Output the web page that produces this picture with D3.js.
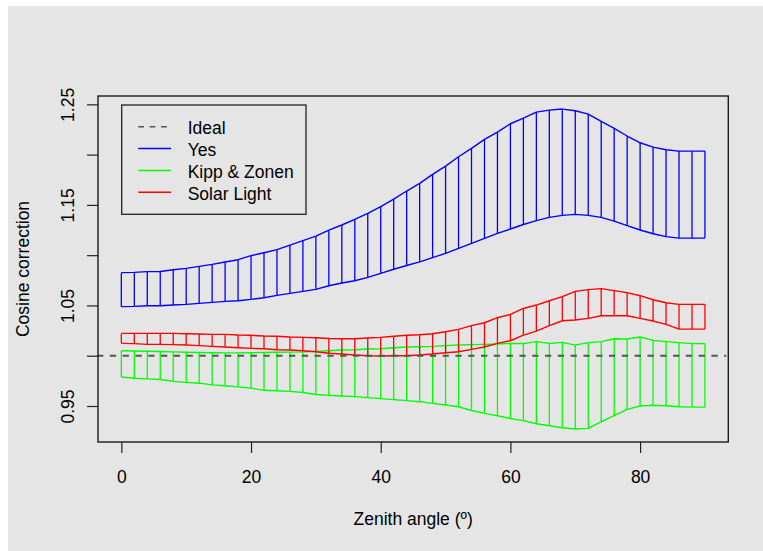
<!DOCTYPE html>
<html>
<head>
<meta charset="utf-8">
<script src="https://cdn.jsdelivr.net/npm/d3@7"></script>
<style>
  html, body { margin: 0; padding: 0; background: #ffffff; }
  svg { display: block; }
  text { font-family: "Liberation Sans", Arial, Helvetica, sans-serif; fill: #000; }
</style>
</head>
<body>
<svg id="chart" width="763" height="551"></svg>
<script>
// Zenith angles (degrees) at which each radiometer was measured
const angles = [0, 2, 4, 6, 8, 10, 12, 14, 16, 18, 20, 22, 24, 26, 28, 30,
  32, 34, 36, 38, 40, 42, 44, 46, 48, 50, 52, 54, 56, 58, 60,
  62, 64, 66, 68, 70, 72, 74, 76, 78, 80, 82, 84, 86, 88, 90];

// Cosine correction envelopes (upper and lower bound) per instrument
const yesUpper = [1.0826, 1.0829, 1.0836, 1.0838, 1.0855, 1.0869, 1.0889, 1.0909, 1.0932, 1.0955,
  1.0995, 1.1024, 1.1055, 1.1100, 1.1144, 1.1190, 1.1250, 1.1300, 1.1356, 1.1416,
  1.1482, 1.1558, 1.1638, 1.1714, 1.1803, 1.1886, 1.1979, 1.2062, 1.2151, 1.2224,
  1.2307, 1.2362, 1.2423, 1.2443, 1.2453, 1.2436, 1.2403, 1.2330, 1.2261, 1.2185,
  1.2118, 1.2075, 1.2049, 1.2035, 1.2035, 1.2035];
const yesLower = [1.0488, 1.0491, 1.0497, 1.0497, 1.0504, 1.0511, 1.0521, 1.0531, 1.0541, 1.0547,
  1.0560, 1.0577, 1.0600, 1.0620, 1.0640, 1.0660, 1.0696, 1.0723, 1.0746, 1.0779,
  1.0819, 1.0860, 1.0897, 1.0933, 1.0976, 1.1018, 1.1068, 1.1117, 1.1167, 1.1217,
  1.1260, 1.1305, 1.1344, 1.1376, 1.1396, 1.1406, 1.1396, 1.1376, 1.1339, 1.1293,
  1.1250, 1.1213, 1.1184, 1.1170, 1.1170, 1.1170];

const kippUpper = [1.0050, 1.0047, 1.0045, 1.0042, 1.0038, 1.0035, 1.0032, 1.0030, 1.0028, 1.0028,
  1.0030, 1.0032, 1.0034, 1.0036, 1.0038, 1.0043, 1.0050, 1.0057, 1.0060, 1.0067,
  1.0070, 1.0080, 1.0087, 1.0090, 1.0093, 1.0100, 1.0106, 1.0110, 1.0113, 1.0116,
  1.0123, 1.0120, 1.0140, 1.0123, 1.0133, 1.0106, 1.0130, 1.0140, 1.0169, 1.0166,
  1.0186, 1.0153, 1.0140, 1.0130, 1.0120, 1.0120];
const kippLower = [0.9788, 0.9776, 0.9770, 0.9763, 0.9745, 0.9735, 0.9727, 0.9710, 0.9702, 0.9690,
  0.9678, 0.9656, 0.9652, 0.9645, 0.9634, 0.9614, 0.9606, 0.9600, 0.9593, 0.9583,
  0.9573, 0.9563, 0.9553, 0.9543, 0.9526, 0.9510, 0.9493, 0.9455, 0.9427, 0.9403,
  0.9374, 0.9354, 0.9324, 0.9304, 0.9284, 0.9271, 0.9278, 0.9344, 0.9404, 0.9467,
  0.9500, 0.9507, 0.9503, 0.9493, 0.9489, 0.9489];

const solarUpper = [1.0222, 1.0222, 1.0222, 1.0222, 1.0222, 1.0219, 1.0216, 1.0212, 1.0212, 1.0206,
  1.0203, 1.0196, 1.0193, 1.0186, 1.0183, 1.0179, 1.0172, 1.0169, 1.0169, 1.0176,
  1.0183, 1.0193, 1.0203, 1.0209, 1.0219, 1.0239, 1.0262, 1.0299, 1.0328, 1.0378,
  1.0411, 1.0470, 1.0504, 1.0547, 1.0587, 1.0640, 1.0657, 1.0667, 1.0647, 1.0627,
  1.0597, 1.0557, 1.0527, 1.0511, 1.0511, 1.0511];
const solarLower = [1.0123, 1.0120, 1.0113, 1.0113, 1.0110, 1.0106, 1.0100, 1.0093, 1.0087, 1.0080,
  1.0073, 1.0070, 1.0060, 1.0057, 1.0050, 1.0040, 1.0025, 1.0017, 1.0007, 1.0000,
  0.9997, 1.0000, 1.0000, 1.0007, 1.0017, 1.0030, 1.0040, 1.0063, 1.0087, 1.0123,
  1.0149, 1.0205, 1.0245, 1.0299, 1.0348, 1.0355, 1.0372, 1.0398, 1.0398, 1.0398,
  1.0372, 1.0345, 1.0312, 1.0265, 1.0265, 1.0265];

const idealValue = 1.0;

const xTicks = [0, 20, 40, 60, 80];
const yTicks = [0.95, 1.00, 1.05, 1.10, 1.15, 1.20, 1.25];
const yTickLabels = ["0.95", "", "1.05", "", "1.15", "", "1.25"];

const legendLabels = ["Ideal", "Yes", "Kipp & Zonen", "Solar Light"];
const legendColors = ["#555555", "#0000ff", "#00ff00", "#ff0000"];

// ---------------------------------------------------------------
const svg = d3.select("#chart");
const W = 763, H = 551;
const box = { left: 98, right: 728.3, top: 96, bottom: 442 };
const fontSize = 17.5;

svg.append("rect")
  .attr("x", 8).attr("y", 6)
  .attr("width", W - 8).attr("height", H - 6)
  .attr("fill", "#e5e5e5");

const x = d3.scaleLinear().domain([-3.6, 93.6]).range([box.left, box.right]);
const y = d3.scaleLinear().domain([0.9142, 1.2583]).range([box.bottom, box.top]);

const plot = svg.append("g");

// Envelope of one instrument: upper line, lower line and a vertical
// segment between them at every angle
function drawEnvelope(upper, lower, color) {
  const g = plot.append("g");
  const line = d3.line().x((d, i) => x(angles[i])).y(d => y(d));
  g.append("g").selectAll("line")
    .data(angles)
    .join("line")
    .attr("x1", d => x(d)).attr("x2", d => x(d))
    .attr("y1", (d, i) => y(upper[i]))
    .attr("y2", (d, i) => y(lower[i]))
    .attr("stroke", color).attr("stroke-width", 1.3);
  [upper, lower].forEach(s => {
    g.append("path")
      .attr("d", line(s))
      .attr("fill", "none")
      .attr("stroke", color)
      .attr("stroke-width", 1.4)
      .attr("stroke-linejoin", "round");
  });
}

drawEnvelope(yesUpper, yesLower, legendColors[1]);
drawEnvelope(kippUpper, kippLower, legendColors[2]);
drawEnvelope(solarUpper, solarLower, legendColors[3]);

// Ideal reference at 1.0
plot.append("line")
  .attr("x1", box.left - 1).attr("x2", box.right - 2)
  .attr("y1", y(idealValue)).attr("y2", y(idealValue))
  .attr("stroke", legendColors[0])
  .attr("stroke-width", 2)
  .attr("stroke-dasharray", "6.3,6.5");

// Axes
const yAxis = d3.axisLeft(y)
  .tickValues(yTicks)
  .tickSize(11)
  .tickFormat((d, i) => yTickLabels[i]);
const gy = svg.append("g")
  .attr("transform", `translate(${box.left},0)`)
  .call(yAxis);
gy.select(".domain").remove();
gy.selectAll(".tick line").attr("stroke", "#222").attr("stroke-width", 1.2);
gy.selectAll(".tick text")
  .attr("x", null).attr("dy", null)
  .attr("text-anchor", "middle")
  .attr("transform", "translate(-24,0) rotate(-90)")
  .style("font-size", fontSize + "px")
  .style("font-family", '"Liberation Sans", Arial, Helvetica, sans-serif')
  .attr("fill", "#000");

const xAxis = d3.axisBottom(x)
  .tickValues(xTicks)
  .tickSize(11)
  .tickFormat(d3.format("d"));
const gx = svg.append("g")
  .attr("transform", `translate(0,${box.bottom})`)
  .call(xAxis);
gx.select(".domain").remove();
gx.selectAll(".tick line").attr("stroke", "#222").attr("stroke-width", 1.2);
gx.selectAll(".tick text")
  .attr("y", 40.5).attr("dy", null)
  .style("font-size", fontSize + "px")
  .style("font-family", '"Liberation Sans", Arial, Helvetica, sans-serif')
  .attr("fill", "#000");

// Plot frame
svg.append("rect")
  .attr("x", box.left).attr("y", box.top)
  .attr("width", box.right - box.left).attr("height", box.bottom - box.top)
  .attr("fill", "none")
  .attr("stroke", "#1a1a1a")
  .attr("stroke-width", 1.4);

// Axis titles
svg.append("text")
  .attr("x", (box.left + box.right) / 2).attr("y", 525)
  .attr("text-anchor", "middle")
  .style("font-size", fontSize + "px")
  .text("Zenith angle (º)");

svg.append("text")
  .attr("transform", `translate(29,${(box.top + box.bottom) / 2}) rotate(-90)`)
  .attr("text-anchor", "middle")
  .style("font-size", fontSize + "px")
  .text("Cosine correction");

// Legend
const legend = svg.append("g");
legend.append("rect")
  .attr("x", 121.7).attr("y", 105)
  .attr("width", 184.3).attr("height", 109.3)
  .attr("fill", "none")
  .attr("stroke", "#222")
  .attr("stroke-width", 1.3);

const rowY = d3.scaleLinear().domain([0, 3]).range([126.7, 192.3]);
legendLabels.forEach((label, i) => {
  const ly = rowY(i);
  legend.append("line")
    .attr("x1", 138.3).attr("x2", 171)
    .attr("y1", ly).attr("y2", ly)
    .attr("stroke", legendColors[i])
    .attr("stroke-width", i === 0 ? 1.6 : 1.4)
    .attr("stroke-dasharray", i === 0 ? "5.7,5.7" : null);
  legend.append("text")
    .attr("x", 187.7).attr("y", ly + 7.2)
    .style("font-size", fontSize + "px")
    .text(label);
});
</script>
</body>
</html>
